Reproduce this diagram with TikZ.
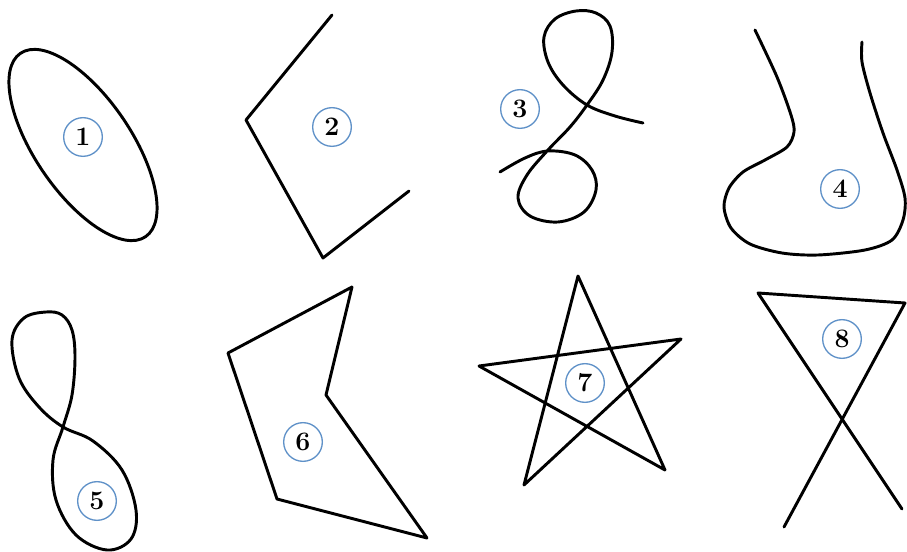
\documentclass[tikz,border=0pt]{standalone}
\usepackage{fontspec}
\usepackage{xcolor}
\usepackage{tikz}
\usetikzlibrary{positioning}
\definecolor{numblue}{RGB}{95,145,200}

\begin{document}
\begin{tikzpicture}[
  x=0.75pt, y=-0.75pt,
  curve/.style={line width=2.2pt, line join=round, line cap=round},
  num/.style={circle, draw=numblue, line width=1pt, fill=white,
              minimum size=29pt, inner sep=0pt,
              font=\fontsize{20}{22}\selectfont\bfseries},
]
\useasboundingbox[fill=white] (0,0) rectangle (907,552);

% TOP ROW
% 1 -- ellipse
\draw[curve, rotate around={-55.7:(83,145)}] (83,145) ellipse [x radius=111, y radius=48];
\node[num] (n1) at (83,137) {1};

% 2 -- open polyline
\draw[curve] (332,15) -- (246,120) -- (323,258) -- (409,191);
\node[num] (n2) at (332,127) {2};

% 3 -- curve with two loops
\draw[curve] plot[smooth, tension=0.6] coordinates {
  (500,172) (525,158) (548,151) (575,155) (592,170) (596,190) (584,212)
  (558,222) (530,216) (518,198) (527,175) (548,150) (570,127) (587,105)
  (603,80) (612,52) (610,26) (596,13) (576,11) (555,19) (544,37)
  (548,62) (563,85) (587,105) (615,116) (643,123)};
\node[num] (n3) at (520,109) {3};

% 4 -- open curve
\draw[curve] plot[smooth, tension=0.5] coordinates {
  (755,30) (777,77) (791,115) (794,132) (787,147) (765,160)
  (743,172) (729,188) (724,207) (731,228) (750,244) (782,253) (818,255)
  (865,250) (892,240) (903,220) (905,198) (897,170) (883,133) (870,93)
  (862,62) (862,42)};
\node[num] (n4) at (840,189) {4};

% BOTTOM ROW
% 5 -- figure eight
\draw[curve] plot[smooth cycle, tension=0.6] coordinates {
  (63,427) (93,441) (122,470) (136,510) (131,539) (107,550) (76,535)
  (56,500) (53,460) (63,427) (72,395) (75,357) (72,330) (62,315)
  (46,312) (24,318) (12,340) (19,378) (39,407)};
\node[num] (n5) at (97,501) {5};

% 6 -- concave polygon
\draw[curve] (352,287) -- (228,353) -- (277,499) -- (427,538) -- (326,395) -- cycle;
\node[num] (n6) at (303,442) {6};

% 7 -- star
\draw[curve] (578,276) -- (665,470) -- (479,366) -- (681,339) -- (524,485) -- cycle;
\node[num] (n7) at (585,383) {7};

% 8 -- crossed triangle
\draw[curve] (784,527) -- (905,303) -- (758,293) -- (902,509);
\node[num] (n8) at (842,339) {8};
\end{tikzpicture}
\end{document}
